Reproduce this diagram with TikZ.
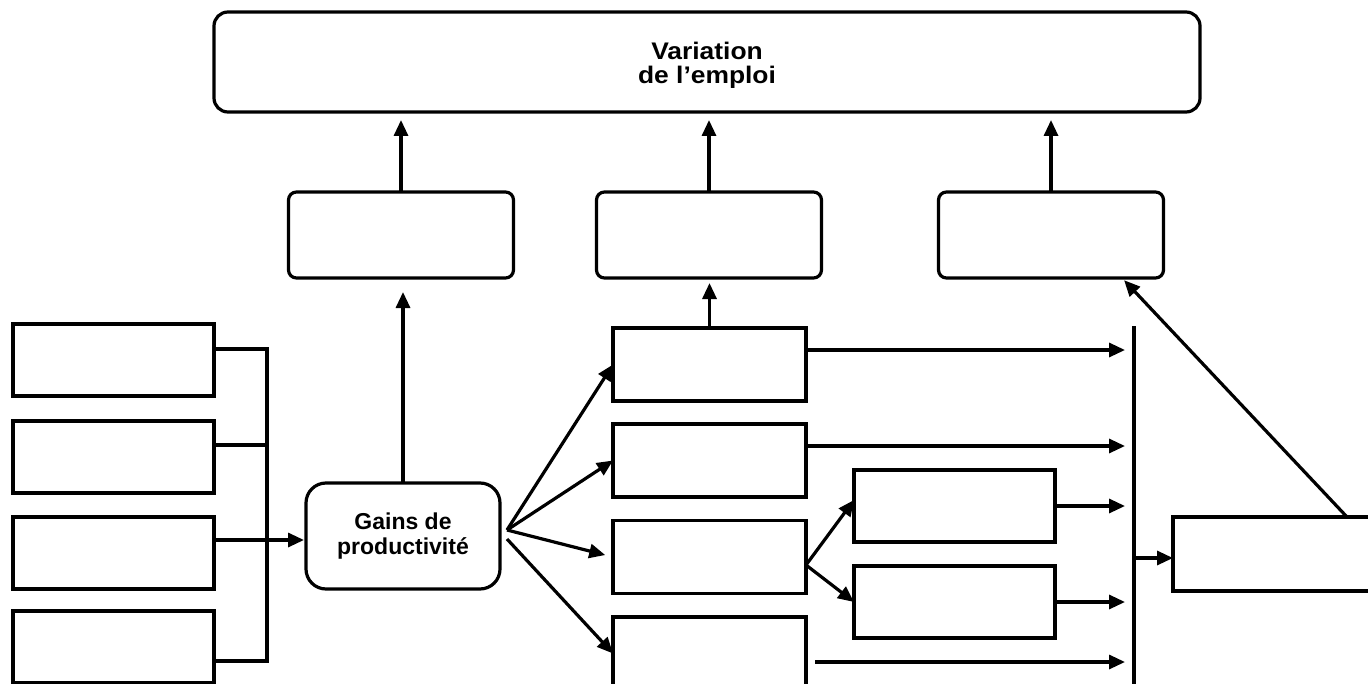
\documentclass[tikz,border=0pt]{standalone}
\usepackage{fontspec}
\setmainfont{Liberation Sans}
\newfontfamily\widesans{Liberation Sans}[FakeStretch=1.1]
\usetikzlibrary{arrows.meta}
\begin{document}
\begin{tikzpicture}[x=0.5pt,y=-0.5pt,line width=1.6pt,
  every node/.style={inner sep=0pt,outer sep=0pt,align=center},
  plain/.style={draw,rectangle},
  topbox/.style={plain,rounded corners=7pt,minimum width=493pt,minimum height=50pt},
  toptext/.style={font=\widesans\bfseries\fontsize{12}{12}\selectfont},
  midbox/.style={plain,rounded corners=4pt,minimum width=112.5pt,minimum height=43pt},
  gainbox/.style={plain,rounded corners=10pt,minimum width=97pt,minimum height=53pt,
    font=\bfseries\fontsize{11.5}{12.25}\selectfont},
  leftbox/.style={plain,minimum width=100.5pt,minimum height=36pt},
  colbox/.style={plain,minimum width=96.5pt,minimum height=36.5pt},
  subbox/.style={plain,minimum width=100.5pt,minimum height=36pt},
  rightbox/.style={plain,minimum width=103pt,minimum height=37pt},
  arr/.style={-{Triangle[length=8pt,width=7pt]}}]
\useasboundingbox (0,0) rectangle (1368,684);

% nodes
\node[topbox] (top) at (707,62) {};
\node[toptext] (toplabel) at (707,65) {Variation\\de l’emploi};
\node[midbox] (m1) at (401,235) {};
\node[midbox] (m2) at (709,235) {};
\node[midbox] (m3) at (1051,235) {};
\node[leftbox] (l1) at (113.5,360) {};
\node[leftbox] (l2) at (113.5,457) {};
\node[leftbox] (l3) at (113.5,553) {};
\node[leftbox] (l4) at (113.5,647) {};
\node[gainbox] (g) at (403,536) {Gains de\\productivité};
\node[colbox] (a) at (709.5,364.5) {};
\node[colbox] (b) at (709.5,460.5) {};
\node[colbox] (c) at (709.5,557) {};
\node[colbox] (d) at (709.5,653.5) {};
\node[subbox] (e) at (954.5,506) {};
\node[subbox] (f) at (954.5,602) {};
\node[rightbox] (r) at (1276,554) {};

% coordinates
\coordinate (bk1) at (267,349);
\coordinate (bk2) at (267,445);
\coordinate (bk3) at (267,540);
\coordinate (bk4) at (267,661);
\coordinate (go1) at (507,530);
\coordinate (go2) at (507,539);
\coordinate (co) at (806,565);
\coordinate (bt) at (1134,326);
\coordinate (bb) at (1134,690);
\coordinate (dstart) at (815,662);

% upward arrows
\draw[arr,shorten >=4pt] (m1.north) -- (m1.north |- top.south);
\draw[arr,shorten >=4pt] (m2.north) -- (m2.north |- top.south);
\draw[arr,shorten >=4pt] (m3.north) -- (m3.north |- top.south);
\draw[arr,shorten >=7pt] (g.north) -- (g.north |- m1.south);
\draw[arr,shorten >=2.5pt] (a.north) -- (a.north |- m2.south);

% bracket on the left
\draw (l1.east |- bk1) -- (bk1) -- (bk4) -- (l4.east |- bk4);
\draw (l2.east |- bk2) -- (bk2);
\draw[arr,shorten >=1pt] (l3.east |- bk3) -- (g.west |- bk3);

% fan from gains
\draw[arr] (go1) -- (a.west);
\draw[arr] (go1) -- (b.west);
\draw[arr,shorten >=4pt] (go1) -- (c.west);
\draw[arr] (go2) -- (d.west);

% from c to e and f
\draw[arr] (co) -- (e.west |- 0,500);
\draw[arr] (co) -- (f.west);

% bar
\draw (bt) -- (bb);
\draw[arr,shorten >=4.5pt] (a.east |- 0,350) -- (bt |- 0,350);
\draw[arr,shorten >=4.5pt] (b.east |- 0,446) -- (bt |- 0,446);
\draw[arr,shorten >=4.5pt] (e.east) -- (bt |- e.east);
\draw[arr,shorten >=4.5pt] (f.east) -- (bt |- f.east);
\draw[arr,shorten >=4.5pt] (dstart) -- (bt |- dstart);
\draw[arr] (bt |- 0,558) -- (r.west |- 0,558);

% diagonal to m3
\draw[arr,shorten >=1.5pt] (r.north -| 1347,0) -- (m3.south -| 1122,0);
\end{tikzpicture}
\end{document}
